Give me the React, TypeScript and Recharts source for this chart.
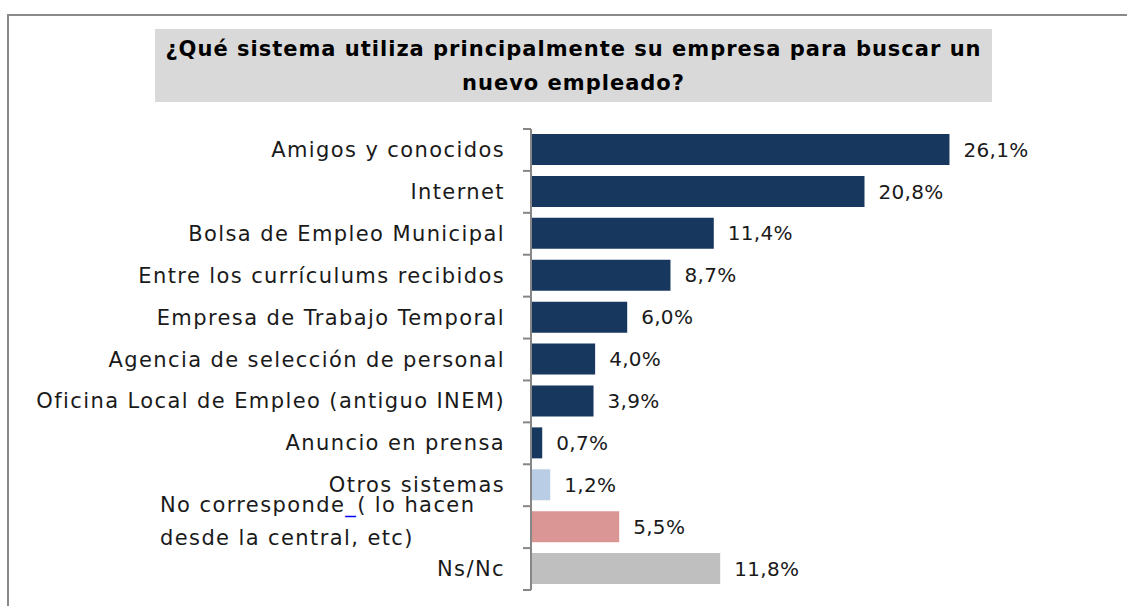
import { BarChart, Bar, XAxis, YAxis, Cell, LabelList } from "recharts";

const categories = [
  "Amigos y conocidos",
  "Internet",
  "Bolsa de Empleo Municipal",
  "Entre los currículums recibidos",
  "Empresa de Trabajo Temporal",
  "Agencia de selección de personal",
  "Oficina Local de Empleo (antiguo INEM)",
  "Anuncio en prensa",
  "Otros sistemas",
  "No corresponde ( lo hacen desde la central, etc)",
  "Ns/Nc",
];
const values = [26.1, 20.8, 11.4, 8.7, 6.0, 4.0, 3.9, 0.7, 1.2, 5.5, 11.8];

const NAVY = "#17375E";
const barColors = [NAVY, NAVY, NAVY, NAVY, NAVY, NAVY, NAVY, NAVY, "#B9CDE5", "#D99694", "#BFBFBF"];

const data = categories.map((name, i) => ({ name, value: values[i] }));

const FONT = "'DejaVu Sans', sans-serif";
const W = 1127;
const H = 606;
const TOP = 129;
const BOTTOM = 16;
const BAND = (H - TOP - BOTTOM) / categories.length;

function CategoryTick(props: any) {
  const { x, y, payload, index } = props;
  const label: string = payload.value;
  const tickTop = y - BAND / 2;
  const last = index === categories.length - 1;
  const textStyle = { fontFamily: FONT, fontSize: 21, letterSpacing: 1.4 };
  return (
    <g>
      <line x1={x - 8} x2={x} y1={tickTop} y2={tickTop} stroke="#868686" strokeWidth={2} />
      {last && (
        <line x1={x - 8} x2={x} y1={tickTop + BAND} y2={tickTop + BAND} stroke="#868686" strokeWidth={2} />
      )}
      {label.startsWith("No corresponde") ? (
        <text x={160} y={y} style={textStyle} fill="#1a1a1a" textAnchor="start">
          <tspan x={160} dy={-22} dominantBaseline="central">
            No corresponde<tspan fill="#0000FF">_</tspan>( lo hacen
          </tspan>
          <tspan x={160} dy={33} dominantBaseline="central">
            desde la central, etc)
          </tspan>
        </text>
      ) : (
        <text x={x - 26} y={y} style={textStyle} fill="#1a1a1a" textAnchor="end" dominantBaseline="central">
          {label}
        </text>
      )}
    </g>
  );
}

const fmt = (v: any) => Number(v).toFixed(1).replace(".", ",") + "%";

export default function App() {
  return (
    <div style={{ position: "absolute", left: 0, top: 0, width: W, height: H, background: "#fff", overflow: "hidden" }}>
      <div
        style={{
          position: "absolute",
          left: 7,
          top: 14,
          width: W,
          height: H,
          borderTop: "2px solid #898989",
          borderLeft: "2px solid #898989",
        }}
      />
      <div
        style={{
          position: "absolute",
          left: 155,
          top: 29,
          width: 837,
          height: 73,
          background: "#D9D9D9",
          fontFamily: FONT,
          fontWeight: "bold",
          fontSize: 21,
          letterSpacing: 1,
          lineHeight: "34px",
          textAlign: "center",
          paddingTop: 3,
          boxSizing: "border-box",
          color: "#000",
          whiteSpace: "nowrap",
        }}
      >
        ¿Qué sistema utiliza principalmente su empresa para buscar un
        <br />
        nuevo empleado?
      </div>
      <div style={{ position: "absolute", left: 0, top: 0 }}>
        <BarChart
          width={W}
          height={H}
          data={data}
          layout="vertical"
          margin={{ top: TOP, right: 115, bottom: BOTTOM, left: 0 }}
          barCategoryGap={0}
        >
          <XAxis type="number" domain={[0, 30]} hide />
          <YAxis
            type="category"
            dataKey="name"
            width={531}
            axisLine={{ stroke: "#868686", strokeWidth: 2 }}
            tickLine={false}
            tickSize={0}
            tickMargin={0}
            interval={0}
            tick={<CategoryTick />}
          />
          <Bar dataKey="value" barSize={31} isAnimationActive={false}>
            {data.map((d, i) => (
              <Cell key={d.name} fill={barColors[i]} />
            ))}
            <LabelList
              dataKey="value"
              position="right"
              offset={14}
              formatter={fmt}
              style={{ fontFamily: FONT, fontSize: 20, letterSpacing: 0.3, fill: "#1a1a1a" }}
            />
          </Bar>
        </BarChart>
      </div>
    </div>
  );
}
